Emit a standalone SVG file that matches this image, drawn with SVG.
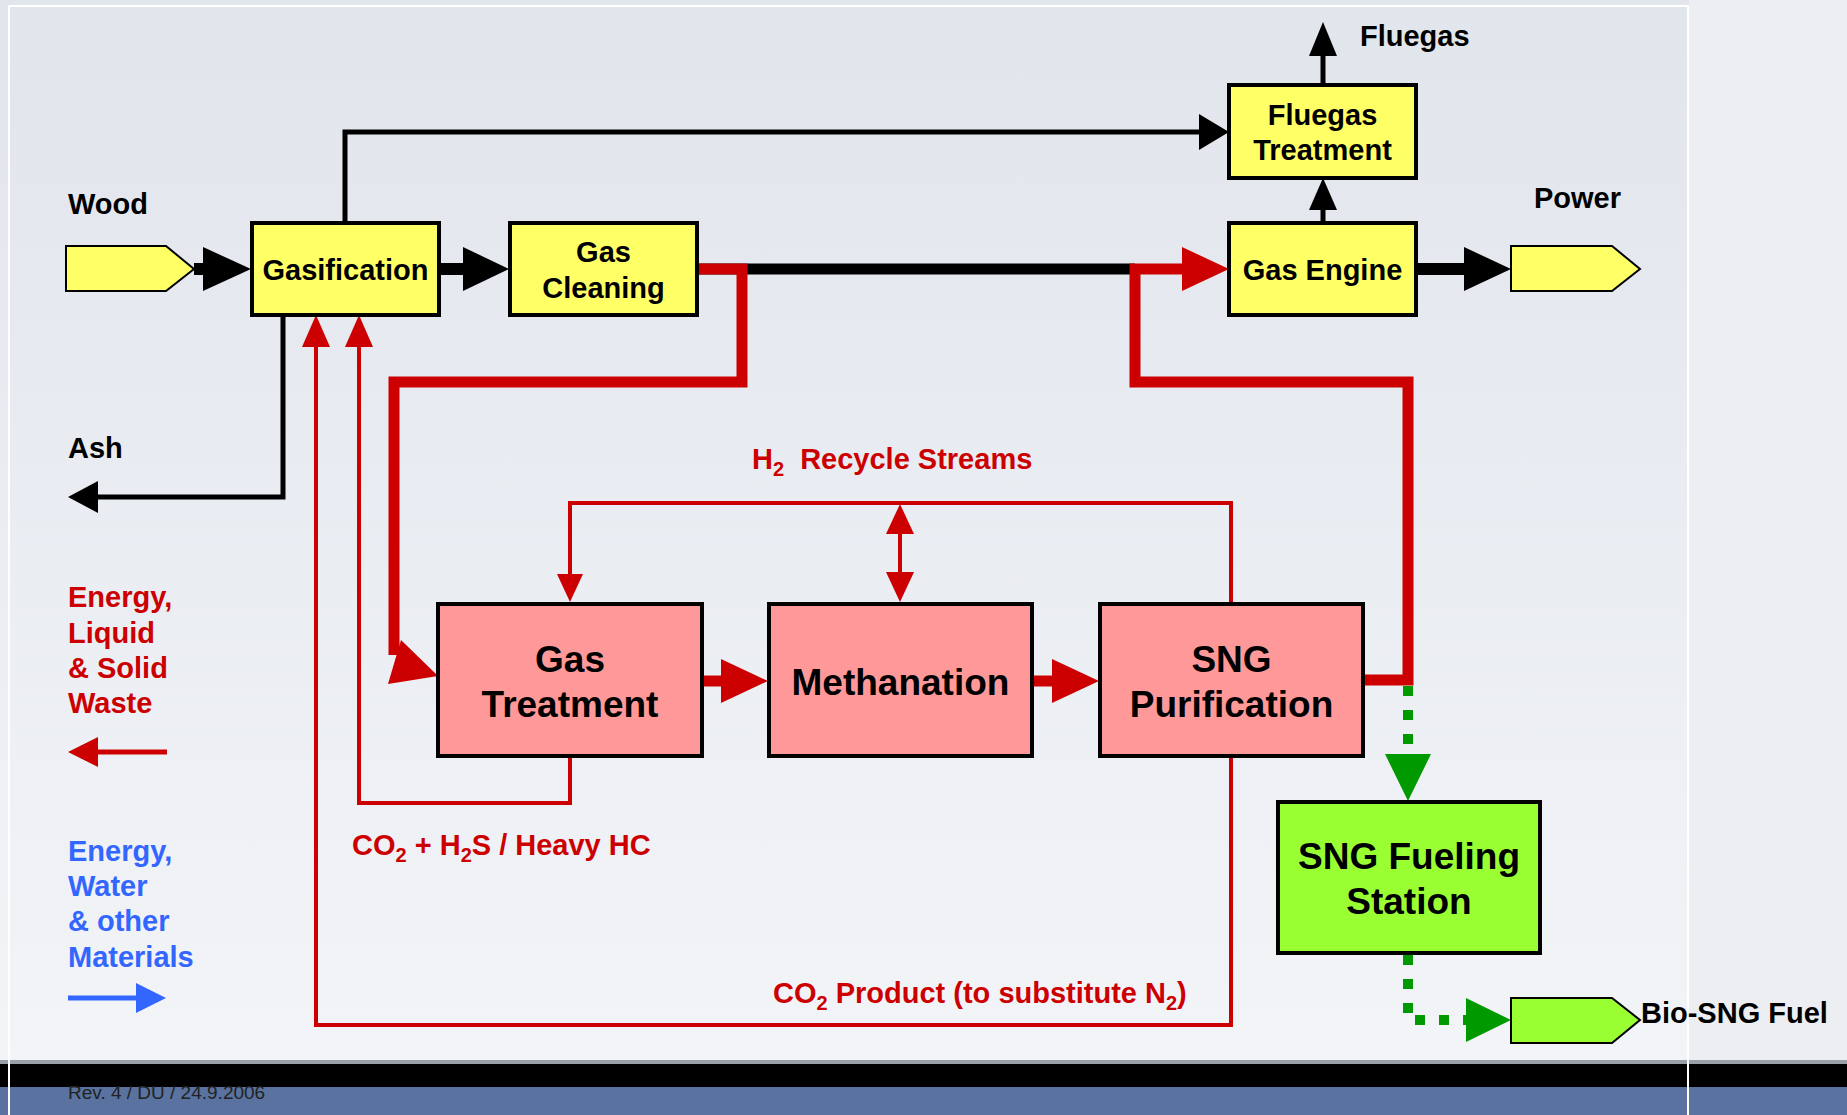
<svg xmlns="http://www.w3.org/2000/svg" width="1847" height="1115" viewBox="0 0 1847 1115">
<defs>
<linearGradient id="bg" x1="0" y1="0" x2="0" y2="1">
<stop offset="0" stop-color="#e1e5ec"/>
<stop offset="1" stop-color="#f3f5f8"/>
</linearGradient>
<style>
.box{stroke:#000;stroke-width:4}
.y{fill:#ffff66}
.p{fill:#ff9999}
.g{fill:#99ff33}
.io{stroke:#000;stroke-width:2}
.t{font-family:"Liberation Sans",Arial,sans-serif;font-weight:bold;text-anchor:middle;fill:#000}
.t29{font-size:29px}
.t37{font-size:37px}
.l{font-family:"Liberation Sans",Arial,sans-serif;font-weight:bold;font-size:29px}
.k{fill:#000}
.r{fill:#cc0000}
.b{fill:#3366ff}
.gr{fill:#009900}
.sub{font-size:20px}
.kl{fill:none;stroke:#000;stroke-width:5}
.kt{fill:none;stroke:#000;stroke-width:12}
.rt{fill:none;stroke:#cc0000;stroke-width:11}
.rl{fill:none;stroke:#cc0000;stroke-width:4}
.bl{fill:none;stroke:#3366ff;stroke-width:5}
.gd{fill:none;stroke:#009900;stroke-width:10;stroke-dasharray:10 14}
</style>
</defs>
<rect x="0" y="0" width="1847" height="1115" fill="url(#bg)"/>
<rect x="1689" y="0" width="158" height="1064" fill="#eceef2"/>
<rect x="0" y="1060" width="1847" height="4" fill="#9aa0aa"/>
<rect x="0" y="1064" width="1847" height="23" fill="#000"/>
<rect x="0" y="1087" width="1847" height="28" fill="#5a72a0"/>
<path d="M9,1115 V6 H1688 V1115" fill="none" stroke="#ffffff" stroke-width="2"/>
<text x="68" y="1099" font-family="'Liberation Sans',Arial,sans-serif" font-size="19" fill="#222">Rev. 4 / DU / 24.9.2006</text>

<g id="connectors">
<!-- black thin -->
<path class="kl" d="M345,223 V132 H1202"/>
<polygon class="k" points="1229,132 1199,114 1199,150"/>
<path class="kl" d="M283,315 V497 H95"/>
<polygon class="k" points="68,497 98,481 98,513"/>
<path class="kl" d="M1323,223 V205"/>
<polygon class="k" points="1323,178 1309,210 1337,210"/>
<path class="kl" d="M1323,85 V50"/>
<polygon class="k" points="1323,22 1309,56 1337,56"/>
<!-- black thick -->
<path class="kt" d="M194,269 H208"/>
<polygon class="k" points="251,269 203,247 203,291"/>
<path class="kt" d="M439,269 H468"/>
<polygon class="k" points="509,269 463,247 463,291"/>
<path class="kt" d="M697,269 H1135" style="stroke-width:11"/>
<path class="kt" d="M1416,269 H1468"/>
<polygon class="k" points="1511,269 1464,247 1464,291"/>
<!-- red thick -->
<path class="rt" d="M697,269 H742 V382 H394 V655"/>
<polygon class="r" points="438,676 401,640 388,684"/>
<path class="rt" d="M1363,680 H1408 V382 H1135 V269 H1186"/>
<polygon class="r" points="1229,269 1182,247 1182,291"/>
<path class="rt" d="M702,681 H725"/>
<polygon class="r" points="768,681 721,659 721,703"/>
<path class="rt" d="M1032,681 H1055"/>
<polygon class="r" points="1099,681 1052,659 1052,703"/>
<!-- red thin -->
<path class="rl" d="M1231,604 V503 H570 V578"/>
<polygon class="r" points="570,602 557,574 583,574"/>
<path class="rl" d="M900,530 V580"/>
<polygon class="r" points="900,504 886,534 914,534"/>
<polygon class="r" points="900,602 886,572 914,572"/>
<path class="rl" d="M570,756 V803 H359 V340"/>
<polygon class="r" points="359,315 345,347 373,347"/>
<path class="rl" d="M1231,756 V1025 H316 V340"/>
<polygon class="r" points="316,315 302,347 330,347"/>
<!-- legend arrows -->
<path class="rl" d="M167,752 H95" style="stroke-width:5"/>
<polygon class="r" points="68,752 98,737 98,767"/>
<path class="bl" d="M68,998 H138"/>
<polygon class="b" points="166,998 136,983 136,1013"/>
<!-- green dotted -->
<path class="gd" d="M1408,686 V752"/>
<polygon class="gr" points="1408,801 1385,754 1431,754"/>
<path class="gd" d="M1408,955 V1020 H1466"/>
<polygon class="gr" points="1511,1020 1466,998 1466,1042"/>
</g>

<g id="wood-in">
<path class="io y" d="M66,246 H166 L194,269 L166,291 H66 Z"/>
<text class="l" x="68" y="214">Wood</text>
</g>
<g id="gasification">
<rect class="box y" x="252" y="223" width="187" height="92"/>
<text class="t t29" x="345.5" y="280">Gasification</text>
</g>
<g id="gas-cleaning">
<rect class="box y" x="510" y="223" width="187" height="92"/>
<text class="t t29" x="603.5" y="262">Gas</text>
<text class="t t29" x="603.5" y="298">Cleaning</text>
</g>
<g id="fluegas-treatment">
<rect class="box y" x="1229" y="85" width="187" height="93"/>
<text class="t t29" x="1322.5" y="125">Fluegas</text>
<text class="t t29" x="1322.5" y="160">Treatment</text>
</g>
<g id="gas-engine">
<rect class="box y" x="1229" y="223" width="187" height="92"/>
<text class="t t29" x="1322.5" y="280">Gas Engine</text>
</g>
<g id="power-out">
<path class="io y" d="M1511,246 H1612 L1640,269 L1612,291 H1511 Z"/>
<text class="l" x="1534" y="208">Power</text>
</g>
<g id="fluegas-out">
<text class="l" x="1360" y="46">Fluegas</text>
</g>
<g id="ash-out">
<text class="l" x="68" y="458">Ash</text>
</g>
<g id="gas-treatment">
<rect class="box p" x="438" y="604" width="264" height="152"/>
<text class="t t37" x="570" y="672">Gas</text>
<text class="t t37" x="570" y="717">Treatment</text>
</g>
<g id="methanation">
<rect class="box p" x="769" y="604" width="263" height="152"/>
<text class="t t37" x="900.5" y="695">Methanation</text>
</g>
<g id="sng-purification">
<rect class="box p" x="1100" y="604" width="263" height="152"/>
<text class="t t37" x="1231.5" y="672">SNG</text>
<text class="t t37" x="1231.5" y="717">Purification</text>
</g>
<g id="sng-fueling-station">
<rect class="box g" x="1278" y="802" width="262" height="151"/>
<text class="t t37" x="1409" y="869">SNG Fueling</text>
<text class="t t37" x="1409" y="914">Station</text>
</g>
<g id="bio-sng-out">
<path class="io g" d="M1511,998 H1612 L1640,1020 L1612,1043 H1511 Z"/>
<text class="l" x="1641" y="1023">Bio-SNG Fuel</text>
</g>
<g id="labels">
<text class="l r" x="752" y="469">H<tspan class="sub" dy="7">2</tspan><tspan dy="-7" dx="8">  Recycle Streams</tspan></text>
<text class="l r" x="352" y="855">CO<tspan class="sub" dy="7">2</tspan><tspan dy="-7"> + H</tspan><tspan class="sub" dy="7">2</tspan><tspan dy="-7">S / Heavy HC</tspan></text>
<text class="l r" x="773" y="1003">CO<tspan class="sub" dy="7">2</tspan><tspan dy="-7"> Product (to substitute N</tspan><tspan class="sub" dy="7">2</tspan><tspan dy="-7">)</tspan></text>
<text class="l r" x="68" y="607">Energy,</text>
<text class="l r" x="68" y="643">Liquid</text>
<text class="l r" x="68" y="678">&amp; Solid</text>
<text class="l r" x="68" y="713">Waste</text>
<text class="l b" x="68" y="861">Energy,</text>
<text class="l b" x="68" y="896">Water</text>
<text class="l b" x="68" y="931">&amp; other</text>
<text class="l b" x="68" y="967">Materials</text>
</g>
</svg>
